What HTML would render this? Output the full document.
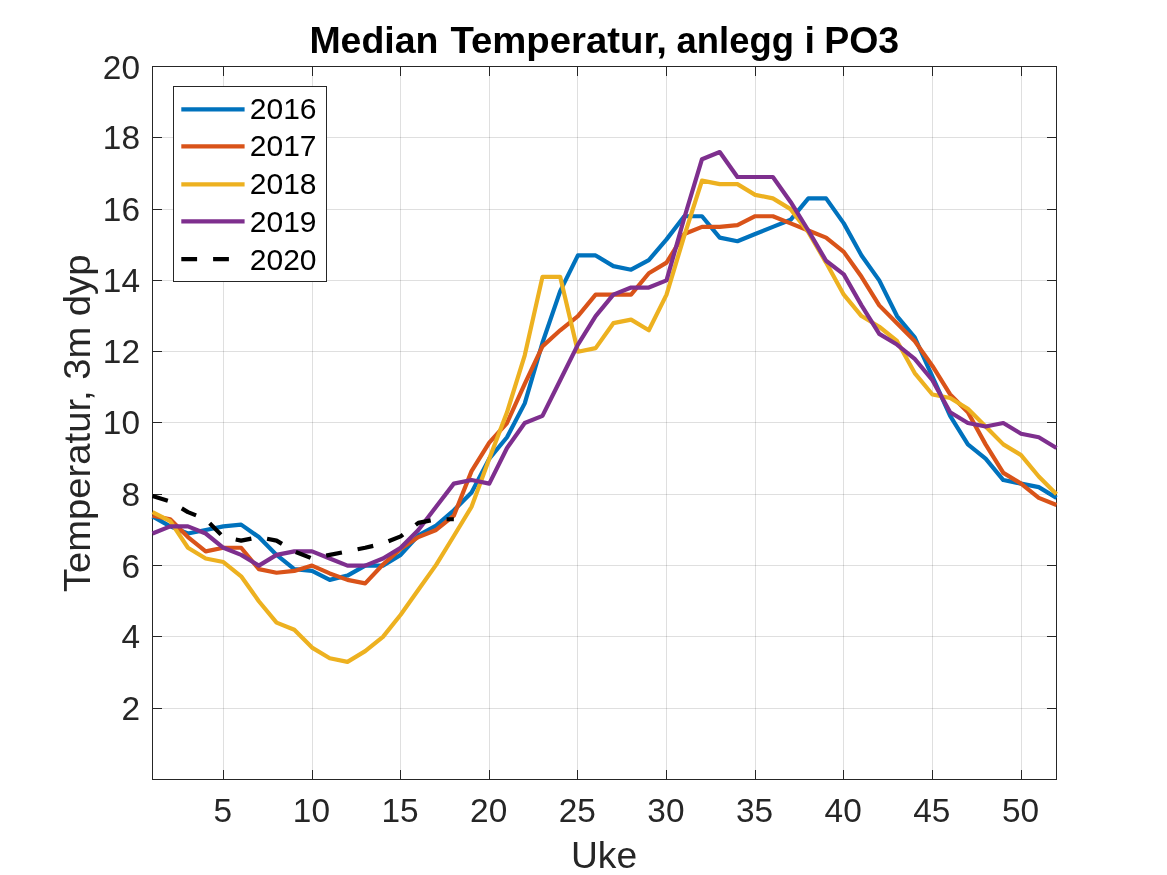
<!DOCTYPE html>
<html><head><meta charset="utf-8"><title>Median Temperatur</title>
<style>html,body{margin:0;padding:0;background:#fff;overflow:hidden;}svg{display:block;will-change:transform;}text{font-family:"Liberation Sans",sans-serif;}</style></head><body>
<svg width="1167" height="875" viewBox="0 0 1167 875">
<rect x="0" y="0" width="1167" height="875" fill="#ffffff"/>
<g fill="#262626" fill-opacity="0.15">
<rect x="223" y="67" width="1" height="712"/>
<rect x="312" y="67" width="1" height="712"/>
<rect x="400" y="67" width="1" height="712"/>
<rect x="489" y="67" width="1" height="712"/>
<rect x="577" y="67" width="1" height="712"/>
<rect x="666" y="67" width="1" height="712"/>
<rect x="755" y="67" width="1" height="712"/>
<rect x="843" y="67" width="1" height="712"/>
<rect x="932" y="67" width="1" height="712"/>
<rect x="1021" y="67" width="1" height="712"/>
<rect x="153" y="708" width="903" height="1"/>
<rect x="153" y="636" width="903" height="1"/>
<rect x="153" y="565" width="903" height="1"/>
<rect x="153" y="494" width="903" height="1"/>
<rect x="153" y="422" width="903" height="1"/>
<rect x="153" y="351" width="903" height="1"/>
<rect x="153" y="280" width="903" height="1"/>
<rect x="153" y="209" width="903" height="1"/>
<rect x="153" y="137" width="903" height="1"/>
</g>
<g fill="#262626">
<rect x="152" y="66" width="905" height="1"/>
<rect x="152" y="779" width="905" height="1"/>
<rect x="152" y="66" width="1" height="714"/>
<rect x="1056" y="66" width="1" height="714"/>
<rect x="223" y="770" width="1" height="9"/>
<rect x="223" y="67" width="1" height="9"/>
<rect x="312" y="770" width="1" height="9"/>
<rect x="312" y="67" width="1" height="9"/>
<rect x="400" y="770" width="1" height="9"/>
<rect x="400" y="67" width="1" height="9"/>
<rect x="489" y="770" width="1" height="9"/>
<rect x="489" y="67" width="1" height="9"/>
<rect x="577" y="770" width="1" height="9"/>
<rect x="577" y="67" width="1" height="9"/>
<rect x="666" y="770" width="1" height="9"/>
<rect x="666" y="67" width="1" height="9"/>
<rect x="755" y="770" width="1" height="9"/>
<rect x="755" y="67" width="1" height="9"/>
<rect x="843" y="770" width="1" height="9"/>
<rect x="843" y="67" width="1" height="9"/>
<rect x="932" y="770" width="1" height="9"/>
<rect x="932" y="67" width="1" height="9"/>
<rect x="1021" y="770" width="1" height="9"/>
<rect x="1021" y="67" width="1" height="9"/>
<rect x="153" y="708" width="9" height="1"/>
<rect x="1047" y="708" width="9" height="1"/>
<rect x="153" y="636" width="9" height="1"/>
<rect x="1047" y="636" width="9" height="1"/>
<rect x="153" y="565" width="9" height="1"/>
<rect x="1047" y="565" width="9" height="1"/>
<rect x="153" y="494" width="9" height="1"/>
<rect x="1047" y="494" width="9" height="1"/>
<rect x="153" y="422" width="9" height="1"/>
<rect x="1047" y="422" width="9" height="1"/>
<rect x="153" y="351" width="9" height="1"/>
<rect x="1047" y="351" width="9" height="1"/>
<rect x="153" y="280" width="9" height="1"/>
<rect x="1047" y="280" width="9" height="1"/>
<rect x="153" y="209" width="9" height="1"/>
<rect x="1047" y="209" width="9" height="1"/>
<rect x="153" y="137" width="9" height="1"/>
<rect x="1047" y="137" width="9" height="1"/>
</g>
<g fill="none" stroke-width="4.2" stroke-linejoin="round" stroke-linecap="butt">
<polyline stroke="#0072bd" points="152.50,516.40 170.23,526.38 187.95,533.51 205.68,529.95 223.40,526.38 241.13,524.60 258.85,537.08 276.58,554.90 294.30,569.16 312.03,570.95 329.75,579.86 347.48,575.58 365.21,565.60 382.93,565.60 400.66,554.90 418.38,535.30 436.11,525.67 453.83,510.34 471.56,492.52 489.28,458.65 507.01,437.26 524.74,403.39 542.46,342.79 560.19,291.09 577.91,255.44 595.64,255.44 613.36,266.14 631.09,269.71 648.81,260.08 666.54,239.40 684.26,216.23 701.99,216.23 719.72,237.62 737.44,241.19 755.17,234.06 772.89,226.92 790.62,219.79 808.34,198.40 826.07,198.40 843.79,223.36 861.52,255.44 879.25,280.40 896.97,316.05 914.70,337.44 932.42,376.65 950.15,415.87 967.87,444.39 985.60,458.65 1003.32,480.04 1021.05,483.60 1038.77,487.17 1056.50,497.87"/>
<polyline stroke="#d95319" points="152.50,515.69 170.23,519.25 187.95,537.08 205.68,551.34 223.40,547.77 241.13,547.77 258.85,569.16 276.58,572.73 294.30,570.95 312.03,565.60 329.75,573.44 347.48,579.86 365.21,583.42 382.93,564.53 400.66,548.84 418.38,537.08 436.11,529.95 453.83,515.69 471.56,471.13 489.28,442.61 507.01,423.00 524.74,383.78 542.46,346.35 560.19,330.31 577.91,316.05 595.64,294.66 613.36,294.66 631.09,294.66 648.81,273.27 666.54,262.58 684.26,234.06 701.99,226.92 719.72,226.92 737.44,225.14 755.17,216.23 772.89,216.23 790.62,223.36 808.34,230.49 826.07,237.62 843.79,251.88 861.52,276.84 879.25,305.36 896.97,323.18 914.70,341.00 932.42,365.96 950.15,394.48 967.87,412.30 985.60,444.39 1003.32,472.91 1021.05,483.60 1038.77,497.87 1056.50,505.00"/>
<polyline stroke="#edb120" points="152.50,512.12 170.23,521.04 187.95,547.77 205.68,558.47 223.40,562.03 241.13,576.30 258.85,601.25 276.58,622.64 294.30,629.77 312.03,647.60 329.75,658.29 347.48,661.86 365.21,651.16 382.93,636.90 400.66,614.80 418.38,589.84 436.11,564.89 453.83,536.01 471.56,506.78 489.28,458.65 507.01,412.30 524.74,355.26 542.46,276.84 560.19,276.84 577.91,351.70 595.64,348.14 613.36,323.18 631.09,319.61 648.81,330.31 666.54,294.66 684.26,235.84 701.99,180.58 719.72,184.14 737.44,184.14 755.17,194.84 772.89,198.40 790.62,209.10 808.34,232.27 826.07,262.58 843.79,294.66 861.52,316.05 879.25,326.75 896.97,341.00 914.70,373.09 932.42,394.48 950.15,398.05 967.87,408.74 985.60,426.56 1003.32,444.39 1021.05,455.08 1038.77,476.48 1056.50,494.30"/>
<polyline stroke="#7e2f8e" points="152.50,533.51 170.23,526.38 187.95,526.38 205.68,533.51 223.40,547.77 241.13,554.90 258.85,565.60 276.58,554.90 294.30,551.34 312.03,551.34 329.75,558.47 347.48,565.60 365.21,565.60 382.93,558.47 400.66,547.77 418.38,529.95 436.11,506.78 453.83,483.60 471.56,480.04 489.28,483.60 507.01,447.95 524.74,423.00 542.46,415.87 560.19,380.22 577.91,344.57 595.64,316.05 613.36,294.66 631.09,287.53 648.81,287.53 666.54,280.40 684.26,218.01 701.99,159.19 719.72,152.06 737.44,177.02 755.17,177.02 772.89,177.02 790.62,201.97 808.34,230.49 826.07,260.79 843.79,274.34 861.52,305.36 879.25,333.88 896.97,344.57 914.70,358.83 932.42,380.22 950.15,412.30 967.87,423.00 985.60,426.56 1003.32,423.00 1021.05,433.70 1038.77,437.26 1056.50,447.95"/>
<polyline stroke="#000000" stroke-dasharray="16 16" points="152.50,496.08 170.23,501.43 187.95,512.12 205.68,519.25 223.40,537.08 241.13,540.64 258.85,537.08 276.58,540.64 294.30,551.34 312.03,558.47 329.75,554.90 347.48,551.34 365.21,547.77 382.93,543.50 400.66,536.37 418.38,522.82 436.11,519.25 453.83,519.25"/>
</g>
<g fill="#262626" font-size="33.4px">
<text x="222.80" y="822.2" text-anchor="middle">5</text>
<text x="311.43" y="822.2" text-anchor="middle">10</text>
<text x="400.06" y="822.2" text-anchor="middle">15</text>
<text x="488.68" y="822.2" text-anchor="middle">20</text>
<text x="577.31" y="822.2" text-anchor="middle">25</text>
<text x="665.94" y="822.2" text-anchor="middle">30</text>
<text x="754.57" y="822.2" text-anchor="middle">35</text>
<text x="843.19" y="822.2" text-anchor="middle">40</text>
<text x="931.82" y="822.2" text-anchor="middle">45</text>
<text x="1020.45" y="822.2" text-anchor="middle">50</text>
<text x="140" y="720.30" text-anchor="end">2</text>
<text x="140" y="647.70" text-anchor="end">4</text>
<text x="140" y="577.50" text-anchor="end">6</text>
<text x="140" y="506.20" text-anchor="end">8</text>
<text x="140" y="433.80" text-anchor="end">10</text>
<text x="140" y="362.60" text-anchor="end">12</text>
<text x="140" y="291.90" text-anchor="end">14</text>
<text x="140" y="221.00" text-anchor="end">16</text>
<text x="140" y="149.00" text-anchor="end">18</text>
<text x="140" y="78.50" text-anchor="end">20</text>
</g>
<text x="604.1" y="868" text-anchor="middle" font-size="37.2px" fill="#262626">Uke</text>
<text transform="translate(90,423.3) rotate(-90)" text-anchor="middle" textLength="337.5" lengthAdjust="spacingAndGlyphs" font-size="37.2px" fill="#262626">Temperatur, 3m dyp</text>
<g font-size="37.6px" font-weight="bold" fill="#000000">
<text x="309.4" y="53" textLength="129.1" lengthAdjust="spacingAndGlyphs">Median</text>
<text x="450.4" y="53" textLength="216.6" lengthAdjust="spacingAndGlyphs">Temperatur,</text>
<text x="676.6" y="53" textLength="117.3" lengthAdjust="spacingAndGlyphs">anlegg</text>
<text x="804.6" y="53" textLength="10.45" lengthAdjust="spacingAndGlyphs">i</text>
<text x="824.2" y="53" textLength="75.0" lengthAdjust="spacingAndGlyphs">PO3</text>
</g>
<rect x="173.5" y="86.5" width="153" height="195" fill="#ffffff" stroke="#262626" stroke-width="1" shape-rendering="crispEdges"/>
<line x1="181.3" y1="109.3" x2="244.6" y2="109.3" stroke="#0072bd" stroke-width="4.2"/>
<text x="249.8" y="119.3" font-size="30px" fill="#000000">2016</text>
<line x1="181.3" y1="146.3" x2="244.6" y2="146.3" stroke="#d95319" stroke-width="4.2"/>
<text x="249.8" y="156.3" font-size="30px" fill="#000000">2017</text>
<line x1="181.3" y1="184.4" x2="244.6" y2="184.4" stroke="#edb120" stroke-width="4.2"/>
<text x="249.8" y="194.4" font-size="30px" fill="#000000">2018</text>
<line x1="181.3" y1="221.3" x2="244.6" y2="221.3" stroke="#7e2f8e" stroke-width="4.2"/>
<text x="249.8" y="231.8" font-size="30px" fill="#000000">2019</text>
<line x1="181.3" y1="259.2" x2="244.6" y2="259.2" stroke="#000000" stroke-width="4.2" stroke-dasharray="15.8 16"/>
<text x="249.8" y="269.7" font-size="30px" fill="#000000">2020</text>
</svg></body></html>
